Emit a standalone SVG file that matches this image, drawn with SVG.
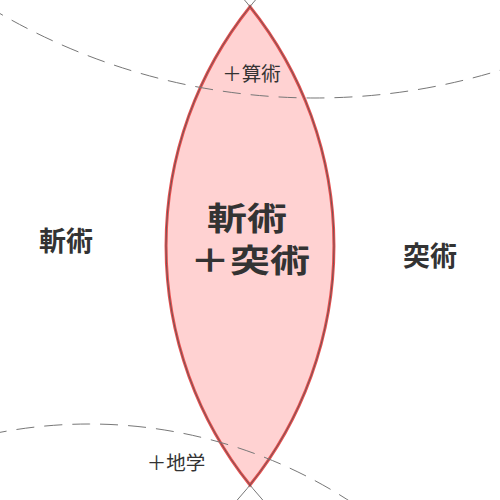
<svg xmlns="http://www.w3.org/2000/svg" width="500" height="500" viewBox="0 0 500 500">
<style>
.circle{fill:none;stroke:#555;stroke-width:1;stroke-opacity:0.8}
.dashed{fill:none;stroke:#777;stroke-width:1;stroke-dasharray:18 10}
.lens{fill:#ffd2d2;stroke:#e85050;stroke-width:3}
.lbl{font-family:"Noto Sans CJK JP","Noto Sans CJK SC",sans-serif;fill:#333;text-anchor:middle;dominant-baseline:central}
.big{font-size:27px;font-weight:700}
.mid{font-size:32px;font-weight:700}
.small{font-size:19.5px;font-weight:400}
</style>
<rect width="500" height="500" fill="#ffffff"/>
<g id="intersection">
<path class="lens" d="M250 6.7 A382.6 382.6 0 0 0 250 485 A382.6 382.6 0 0 0 250 6.7 Z"/>
</g>
<g id="main-circles">
<circle class="circle" cx="548.6" cy="245.8" r="382.6"/>
<circle class="circle" cx="-48.6" cy="245.8" r="382.6"/>
</g>
<g id="extra-circles">
<circle class="dashed" cx="315" cy="-532" r="630"/>
<circle class="dashed" cx="89" cy="903" r="479"/>
</g>
<g id="label-left"><text class="lbl big" x="66" y="239.5">斬術</text></g>
<g id="label-right"><text class="lbl big" x="430" y="254.5">突術</text></g>
<g id="label-center">
<text class="lbl mid" transform="translate(247,216) scale(1.25,1)">斬術</text>
<text class="lbl mid" transform="translate(250,258) scale(1.25,1)">＋突術</text>
</g>
<g id="label-top"><text class="lbl small" x="251.5" y="72.5">＋算術</text></g>
<g id="label-bottom"><text class="lbl small" x="176" y="461">＋地学</text></g>
</svg>
